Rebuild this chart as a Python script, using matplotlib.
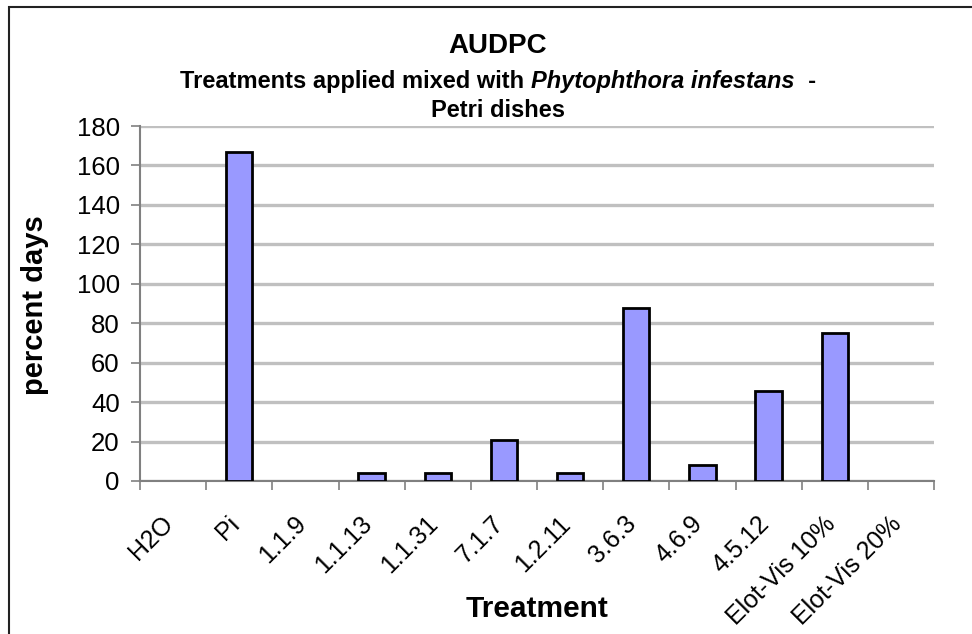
import numpy as np
import matplotlib
matplotlib.use('Agg')
import matplotlib.pyplot as plt
from matplotlib.patches import Rectangle
from matplotlib.transforms import ScaledTranslation

plt.rcParams['font.family'] = ['Liberation Sans', 'DejaVu Sans']

# Data
treatments = ['H2O', 'Pi', '1.1.9', '1.1.13', '1.1.31', '7.1.7', '1.2.11',
              '3.6.3', '4.6.9', '4.5.12', 'Elot-Vis 10%', 'Elot-Vis 20%']
audpc = [0, 166.7, 0, 4.2, 4.2, 20.8, 4.2, 87.5, 8.3, 45.8, 75.0, 0]
yticks = [0, 20, 40, 60, 80, 100, 120, 140, 160, 180]

W, H = 972, 634
fig = plt.figure(figsize=(W / 100, H / 100), dpi=100)
ax = fig.add_axes([140 / W, 1 - 481 / H, (934 - 140) / W, (481 - 126) / H])

x = np.arange(len(treatments))
bars = ax.bar(x, audpc, width=0.4, color='#9999ff', edgecolor='black',
              linewidth=2, zorder=3)
for b, v in zip(bars, audpc):
    if v == 0:
        b.set_visible(False)

ax.set_xlim(-0.5, len(treatments) - 0.5)
ax.set_ylim(0, 180)
ax.set_yticks(yticks)
ax.set_yticklabels([str(v) for v in yticks], fontsize=18.5)
ax.yaxis.grid(True, color='#c0c0c0', linewidth=2.4, zorder=0)
ax.set_axisbelow(True)

# ticks between categories, labels at centres
ax.set_xticks(np.arange(-0.5, len(treatments), 1.0))
ax.set_xticklabels([])
ax.set_xticks(x, minor=True)
ax.set_xticklabels(treatments, minor=True, rotation=45, ha='right',
                   rotation_mode='anchor', fontsize=18)
ax.tick_params(axis='x', which='minor', length=0, pad=22)
ax.tick_params(axis='y', which='major', pad=8)
ax.tick_params(axis='both', which='major', direction='out', length=6.5,
               width=1.2, color='#808080')
shift = ScaledTranslation(-0.12, 0, fig.dpi_scale_trans)
for lab in ax.get_xticklabels(minor=True):
    lab.set_transform(lab.get_transform() + shift)

for s in ['top', 'right']:
    ax.spines[s].set_visible(False)
for s in ['left', 'bottom']:
    ax.spines[s].set_color('#808080')
    ax.spines[s].set_linewidth(1.5)

ax.set_ylabel('percent days', fontsize=21, fontweight='bold')
ax.yaxis.set_label_coords(49 / W, 1 - 305 / H, transform=fig.transFigure)
fig.text(537 / W, 1 - 609 / H, 'Treatment', fontsize=21.5, fontweight='bold',
         ha='center', va='center')

# titles
cx = 498
fig.text(cx / W, 1 - 53 / H, 'AUDPC', fontsize=20, fontweight='bold',
         ha='center', va='baseline')

renderer = fig.canvas.get_renderer()
pieces = [('Treatments applied mixed with ', 'normal'),
          ('Phytophthora infestans', 'italic'),
          ('  -', 'normal')]
texts = []
for s, st in pieces:
    t = fig.text(0, 1 - 88 / H, s, fontsize=17, fontweight='bold', fontstyle=st,
                 ha='left', va='baseline')
    texts.append(t)
widths = [t.get_window_extent(renderer).width for t in texts]
xpos = cx - sum(widths) / 2
for t, w in zip(texts, widths):
    t.set_x(xpos / W)
    xpos += w
fig.text(cx / W, 1 - 117 / H, 'Petri dishes', fontsize=17, fontweight='bold',
         ha='center', va='baseline')

# chart border (right and bottom edges fall outside the picture)
fig.patches.append(Rectangle((8.5 / W, -0.05), 1.0, (H - 7) / H + 0.05,
                             transform=fig.transFigure, fill=False,
                             edgecolor='#222222', linewidth=1.5))

fig.savefig('out.png', dpi=100)
